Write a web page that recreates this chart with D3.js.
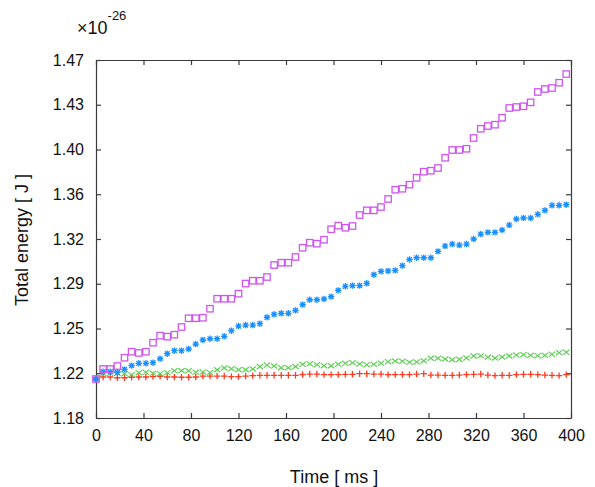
<!DOCTYPE html>
<html>
<head>
<meta charset="utf-8">
<script src="https://cdn.jsdelivr.net/npm/d3@7"></script>
<style>
  html, body { margin: 0; padding: 0; background: #fff; }
  svg { display: block; font-family: "Liberation Sans", Arial, Helvetica, sans-serif; }
</style>
</head>
<body>
<svg id="chart" width="595" height="487"></svg>
<script>
// ---- data (energy in units of 1e-26 J) ----
const times = [0,6,12,18,24,30,36,42,48,54,60,66,72,78,84,90,96,102,108,114,120,126,132,138,144,150,156,162,168,174,180,186,192,198,204,210,216,222,228,234,240,246,252,258,264,270,276,282,288,294,300,306,312,318,324,330,336,342,348,354,360,366,372,378,384,390,396];

const magentaSeries = [1.2116,1.2197,1.2197,1.2221,1.2288,1.2337,1.2327,1.2337,1.2410,1.2467,1.2459,1.2475,1.2537,1.2608,1.2608,1.2612,1.2685,1.2766,1.2766,1.2766,1.2807,1.2889,1.2912,1.2912,1.2942,1.3039,1.3058,1.3058,1.3104,1.3179,1.3220,1.3212,1.3244,1.3329,1.3358,1.3341,1.3355,1.3444,1.3482,1.3482,1.3509,1.3574,1.3649,1.3657,1.3690,1.3746,1.3795,1.3803,1.3825,1.3908,1.3971,1.3971,1.3981,1.4068,1.4143,1.4165,1.4176,1.4232,1.4311,1.4319,1.4325,1.4357,1.4441,1.4465,1.4473,1.4516,1.4586];

const blueSeries = [1.2116,1.2175,1.2175,1.2170,1.2194,1.2224,1.2243,1.2243,1.2248,1.2280,1.2321,1.2345,1.2345,1.2359,1.2399,1.2432,1.2442,1.2442,1.2462,1.2507,1.2545,1.2553,1.2553,1.2564,1.2616,1.2640,1.2648,1.2648,1.2672,1.2718,1.2758,1.2758,1.2764,1.2783,1.2834,1.2867,1.2872,1.2872,1.2891,1.2961,1.2988,1.2991,1.2996,1.3034,1.3084,1.3098,1.3098,1.3098,1.3150,1.3193,1.3209,1.3201,1.3209,1.3250,1.3290,1.3304,1.3304,1.3323,1.3363,1.3412,1.3420,1.3420,1.3450,1.3482,1.3523,1.3523,1.3528];

const greenSeries = [1.2116,1.2160,1.2162,1.2162,1.2159,1.2151,1.2167,1.2170,1.2162,1.2159,1.2167,1.2183,1.2183,1.2183,1.2170,1.2173,1.2167,1.2191,1.2205,1.2199,1.2191,1.2191,1.2197,1.2216,1.2229,1.2221,1.2207,1.2207,1.2216,1.2235,1.2240,1.2232,1.2224,1.2223,1.2235,1.2243,1.2248,1.2237,1.2232,1.2235,1.2243,1.2256,1.2262,1.2259,1.2251,1.2254,1.2264,1.2284,1.2284,1.2278,1.2272,1.2275,1.2286,1.2302,1.2305,1.2292,1.2286,1.2294,1.2302,1.2310,1.2313,1.2308,1.2305,1.2308,1.2316,1.2329,1.2332];

const redSeries = [1.2116,1.2132,1.2132,1.2126,1.2126,1.2130,1.2132,1.2132,1.2135,1.2138,1.2132,1.2132,1.2130,1.2130,1.2132,1.2140,1.2140,1.2140,1.2140,1.2135,1.2135,1.2140,1.2143,1.2146,1.2146,1.2146,1.2146,1.2146,1.2146,1.2151,1.2156,1.2156,1.2151,1.2151,1.2151,1.2154,1.2154,1.2159,1.2159,1.2156,1.2156,1.2151,1.2151,1.2151,1.2151,1.2156,1.2159,1.2148,1.2148,1.2146,1.2146,1.2148,1.2151,1.2154,1.2156,1.2148,1.2143,1.2146,1.2146,1.2151,1.2154,1.2154,1.2151,1.2148,1.2146,1.2143,1.2151];

const xTickValues = [0,40,80,120,160,200,240,280,320,360,400];
const yTickLabels = ["1.18","1.22","1.25","1.29","1.32","1.36","1.40","1.43","1.47"];
const yDomain = [1.18, 1.47];

// ---- layout ----
const svg = d3.select("#chart");
const L = 96, R = 571, T = 60, B = 418;
const x = d3.scaleLinear().domain([0, 400]).range([L, R]);
const y = d3.scaleLinear().domain(yDomain).range([B, T]);
const yTickValues = yTickLabels.map((d, i) => yDomain[0] + i * (yDomain[1] - yDomain[0]) / (yTickLabels.length - 1));

const axisColor = "#3a3a3a";
const tickLen = 5;

function styleAxis(g) {
  g.selectAll(".domain").attr("stroke", axisColor).attr("stroke-width", 1.2);
  g.selectAll(".tick line").attr("stroke", axisColor).attr("stroke-width", 1.2);
  g.selectAll(".tick text").attr("fill", "#111").style("font-size", "16px")
    .style("font-family", "'Liberation Sans', Arial, Helvetica, sans-serif");
}

svg.append("g").attr("transform", `translate(0,${B})`)
  .call(d3.axisBottom(x).tickValues(xTickValues).tickSizeInner(-tickLen).tickSizeOuter(0).tickPadding(12).tickFormat(d3.format("d")))
  .call(styleAxis);
svg.append("g").attr("transform", `translate(0,${T})`)
  .call(d3.axisTop(x).tickValues(xTickValues).tickSizeInner(-tickLen).tickSizeOuter(0).tickFormat(""))
  .call(styleAxis);
svg.append("g").attr("transform", `translate(${L},0)`)
  .call(d3.axisLeft(y).tickValues(yTickValues).tickSizeInner(-tickLen).tickSizeOuter(0).tickPadding(12).tickFormat((d, i) => yTickLabels[i]))
  .call(styleAxis);
svg.append("g").attr("transform", `translate(${R},0)`)
  .call(d3.axisRight(y).tickValues(yTickValues).tickSizeInner(-tickLen).tickSizeOuter(0).tickFormat(""))
  .call(styleAxis);

// ---- markers ----
const redPts = times.map((t, i) => [t, redSeries[i]]);
const greenPts = times.map((t, i) => [t, greenSeries[i]]);
const bluePts = times.map((t, i) => [t, blueSeries[i]]);
const magPts = times.map((t, i) => [t, magentaSeries[i]]);

const s = 3.2;
svg.append("g").selectAll("path").data(redPts).join("path")
  .attr("d", d => `M${x(d[0]) - s},${y(d[1])}h${2 * s}M${x(d[0])},${y(d[1]) - s}v${2 * s}`)
  .attr("stroke", "#ff3a1f").attr("stroke-width", 1.3).attr("fill", "none");

svg.append("g").selectAll("path").data(greenPts).join("path")
  .attr("d", d => `M${x(d[0]) - s},${y(d[1]) - s * 0.8}L${x(d[0]) + s},${y(d[1]) + s * 0.8}M${x(d[0]) - s},${y(d[1]) + s * 0.8}L${x(d[0]) + s},${y(d[1]) - s * 0.8}`)
  .attr("stroke", "#5fcf55").attr("stroke-width", 1.2).attr("fill", "none");

svg.append("g").selectAll("path").data(bluePts).join("path")
  .attr("d", d => {
    const cx = x(d[0]), cy = y(d[1]);
    return `M${cx - s},${cy}h${2 * s}M${cx},${cy - s}v${2 * s}M${cx - 2.4},${cy - 2.4}L${cx + 2.4},${cy + 2.4}M${cx - 2.4},${cy + 2.4}L${cx + 2.4},${cy - 2.4}`;
  })
  .attr("stroke", "#1a8fff").attr("stroke-width", 1.3).attr("fill", "none");

svg.append("g").selectAll("rect").data(magPts).join("rect")
  .attr("x", d => x(d[0]) - 3.2).attr("y", d => y(d[1]) - 3.2)
  .attr("width", 6.4).attr("height", 6.4)
  .attr("stroke", "#cf55f0").attr("stroke-width", 1.3).attr("fill", "none");

// ---- labels ----
svg.append("text").attr("x", 334).attr("y", 483).attr("text-anchor", "middle")
  .style("font-size", "18px").attr("fill", "#111").text("Time [ ms ]");
svg.append("text").attr("transform", "translate(28,240) rotate(-90)").attr("text-anchor", "middle")
  .style("font-size", "18px").attr("fill", "#111").text("Total energy [ J ]");

const sci = svg.append("text").attr("x", 77).attr("y", 34).attr("fill", "#111").style("font-size", "18px");
sci.append("tspan").text("×10");
sci.append("tspan").attr("dy", -14).style("font-size", "13px").text("-26");
</script>
</body>
</html>
